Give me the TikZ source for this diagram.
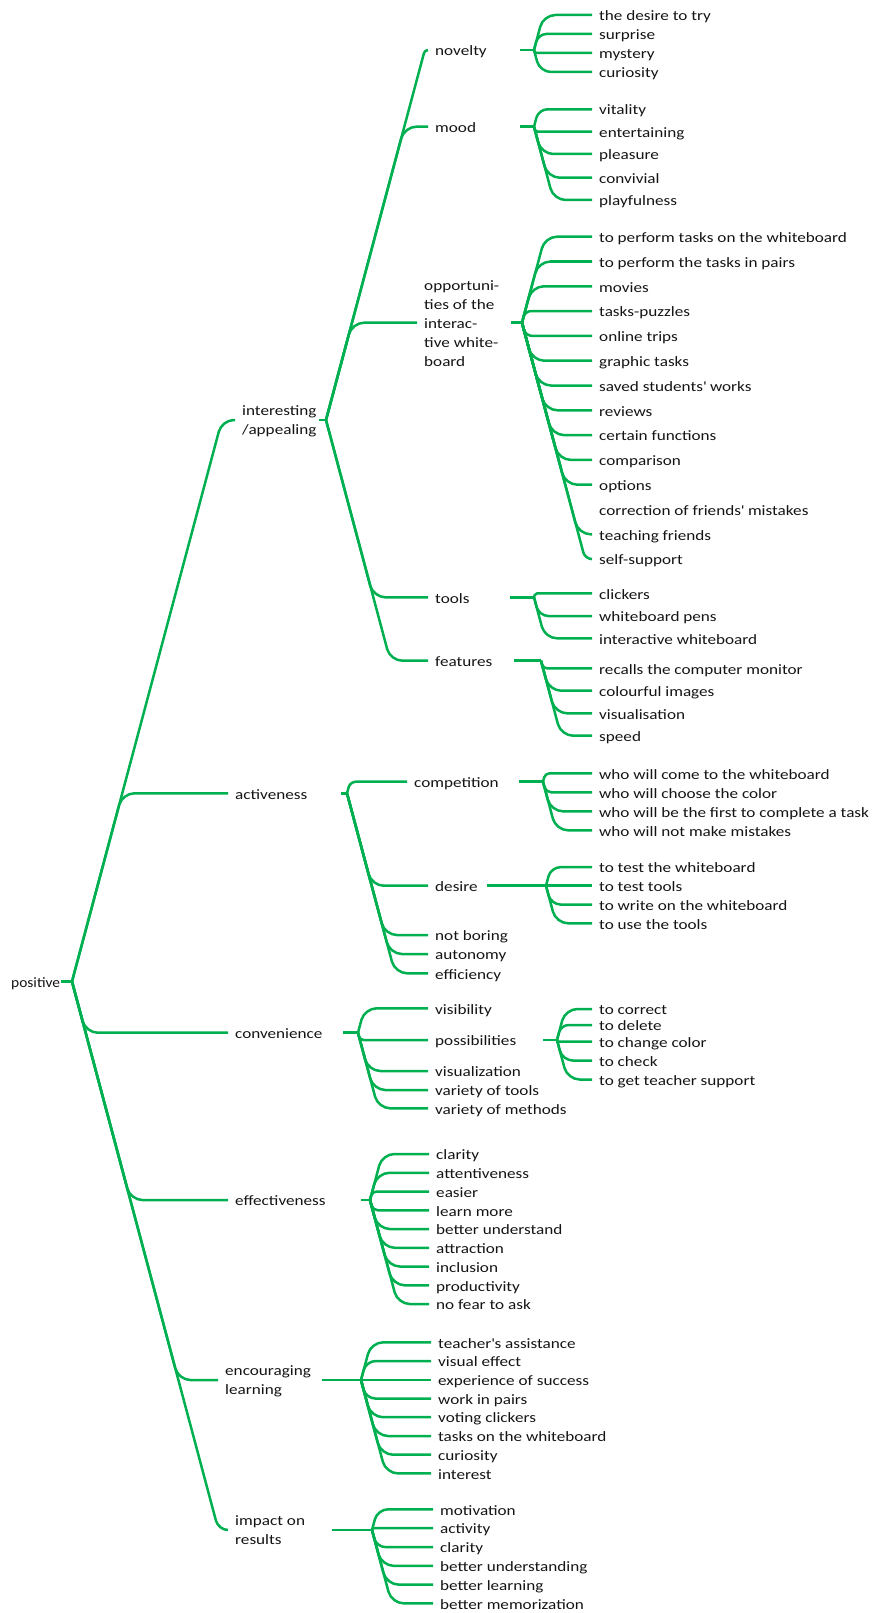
\documentclass[tikz,border=0pt]{standalone}
\usepackage{fontspec}
\setmainfont{Carlito}[FakeStretch=1.2]
\newfontfamily\rootfont{Carlito}[FakeStretch=1.08]
\usetikzlibrary{calc}
\definecolor{lgreen}{RGB}{0,176,80}
\definecolor{txt}{RGB}{20,20,20}
\newcommand\lblfont{\fontsize{14.3pt}{19pt}\selectfont}
\tikzset{
  conn/.style={draw=lgreen, line width=2.5pt, line join=round},
  lbl/.style={anchor=west, inner xsep=7pt, inner ysep=0pt, text height=11.4pt, text depth=0pt, text=txt, font=\lblfont},
  mlbl/.style={anchor=base west, inner xsep=7pt, inner ysep=0pt, align=left, text=txt, font=\lblfont},
}
% curved elbow connector from junction #1 to node #2
\newcommand\br[2]{\draw[conn] let \p1=(#1), \p2=(#2.west), \n1={abs(\y2-\y1)}, \n2={min(\x1+0.267*\n1,\x2)}, \n3={max(0.2,min(12,0.5*\n1,\x2-\n2))} in [rounded corners=\n3] (\p1) -- (\n2,\y2) -- (\p2);}
\newcommand\sbr[2]{\draw[conn] (#1) -- (#2.west);}
\begin{document}
\begin{tikzpicture}[x=1pt,y=-1pt]
\useasboundingbox (0,0) rectangle (873,1613);
% ---------- root
\node[lbl, font=\rootfont\fontsize{14.3pt}{19pt}\selectfont] (pos) at (4,981.5) {positive};
\coordinate (s0) at (61,981.5); \coordinate (j0) at (72,981.5);
\draw[conn] (s0) -- (j0);
% ---------- level 1 (multi-line labels: base = last baseline)
\node[mlbl] (int) at (235,434) {interesting\\/appealing};
\coordinate (intIn) at (235,420);
\coordinate (sInt) at (319,420); \coordinate (jInt) at (326,420);
\node[lbl] (act) at (228,793.3) {activeness};
\coordinate (sAct) at (341,793.3); \coordinate (jAct) at (347,793.3);
\node[lbl] (conv) at (228,1032.7) {convenience};
\coordinate (sConv) at (343,1032.7); \coordinate (jConv) at (358,1032.7);
\node[lbl] (eff) at (228,1200) {effectiveness};
\coordinate (sEff) at (361,1200); \coordinate (jEff) at (370,1200);
\node[mlbl] (enc) at (218,1394) {encouraging\\learning};
\coordinate (encIn) at (218,1380);
\coordinate (sEnc) at (322,1380); \coordinate (jEnc) at (361,1380);
\node[mlbl] (imp) at (228,1544) {impact on\\results};
\coordinate (impIn) at (228,1530);
\coordinate (sImp) at (332,1530); \coordinate (jImp) at (372,1530);
\br{j0}{intIn} \br{j0}{act} \br{j0}{conv} \br{j0}{eff} \br{j0}{encIn} \br{j0}{impIn}
\draw[conn] (sInt) -- (jInt);
\draw[conn] (sAct) -- (jAct);
\draw[conn] (sConv) -- (jConv);
\draw[conn] (sEff) -- (jEff);
\draw[conn] (sEnc) -- (jEnc);
\draw[conn] (sImp) -- (jImp);
% ---------- interesting / appealing
\node[lbl] (nov) at (428,50) {novelty};
\coordinate (sNov) at (520,50); \coordinate (jNov) at (534,50);
\node[lbl] (mood) at (428,126.7) {mood};
\coordinate (sMood) at (520,126.7); \coordinate (jMood) at (534,126.7);
\node[mlbl] (opp) at (417,366.7) {opportuni-\\ties of the\\interac-\\tive white-\\board};
\coordinate (oppIn) at (417,322.7);
\coordinate (sOpp) at (511,322.7); \coordinate (jOpp) at (522,322.7);
\node[lbl] (tools) at (428,597.3) {tools};
\coordinate (sTools) at (510,597.3); \coordinate (jTools) at (534,597.3);
\node[lbl] (feat) at (428,660.7) {features};
\coordinate (sFeat) at (514,660.7); \coordinate (jFeat) at (541,660.7);
\br{jInt}{nov} \br{jInt}{mood} \br{jInt}{oppIn} \br{jInt}{tools} \br{jInt}{feat}
\draw[conn] (sNov) -- (jNov);
\draw[conn] (sMood) -- (jMood);
\draw[conn] (sOpp) -- (jOpp);
\draw[conn] (sTools) -- (jTools);
\draw[conn] (sFeat) -- (jFeat);
\foreach \yy/\tx [count=\i] in {15/the desire to try, 34/surprise, 53/mystery, 72/curiosity}
  {\node[lbl] (nov\i) at (592,\yy) {\tx}; \br{jNov}{nov\i}}
\foreach \yy/\tx [count=\i] in {109.3/vitality, 131.7/entertaining, 154/pleasure, 177.7/convivial, 200/playfulness}
  {\node[lbl] (mood\i) at (592,\yy) {\tx}; \br{jMood}{mood\i}}
\foreach \yy/\tx [count=\i] in {236.7/to perform tasks on the whiteboard, 261.5/to perform the tasks in pairs, 286.3/movies, 311.1/tasks-puzzles, 335.9/online trips, 360.7/graphic tasks, 385.5/saved students\textquotesingle{} works, 410.3/reviews, 435.1/certain functions, 459.9/comparison, 484.7/options}
  {\node[lbl] (opp\i) at (592,\yy) {\tx}; \br{jOpp}{opp\i}}
\node[lbl] (opp12) at (592,509.5) {correction of friends\textquotesingle{} mistakes};
\node[lbl] (opp13) at (592,534.3) {teaching friends};
\node[lbl] (opp14) at (592,559.1) {self-support};
\br{jOpp}{opp13} \br{jOpp}{opp14}
\foreach \yy/\tx [count=\i] in {593.3/clickers, 616/whiteboard pens, 638.3/interactive whiteboard}
  {\node[lbl] (tools\i) at (592,\yy) {\tx}; \br{jTools}{tools\i}}
\foreach \yy/\tx [count=\i] in {668.3/recalls the computer monitor, 690.7/colourful images, 713.3/visualisation, 735.7/speed}
  {\node[lbl] (feat\i) at (592,\yy) {\tx}; \br{jFeat}{feat\i}}
% ---------- activeness
\node[lbl] (comp) at (407,781.7) {competition};
\coordinate (sComp) at (519,781.7); \coordinate (jComp) at (543,781.7);
\node[lbl] (des) at (428,885.7) {desire};
\coordinate (sDes) at (487,885.7); \coordinate (jDes) at (546,885.7);
\node[lbl] (notb) at (428,935) {not boring};
\node[lbl] (auto) at (428,954) {autonomy};
\node[lbl] (effi) at (428,973.3) {efficiency};
\br{jAct}{comp} \br{jAct}{des} \br{jAct}{notb} \br{jAct}{auto} \br{jAct}{effi}
\draw[conn] (sComp) -- (jComp);
\draw[conn] (sDes) -- (jDes);
\foreach \yy/\tx [count=\i] in {773.3/who will come to the whiteboard, 792.3/who will choose the color, 811.3/who will be the first to complete a task, 830.3/who will not make mistakes}
  {\node[lbl] (comp\i) at (592,\yy) {\tx}; \br{jComp}{comp\i}}
\node[lbl] (des1) at (592,867.2) {to test the whiteboard};
\node[lbl] (des2) at (592,885.7) {to test tools};
\node[lbl] (des3) at (592,904.5) {to write on the whiteboard};
\node[lbl] (des4) at (592,923.3) {to use the tools};
\br{jDes}{des1} \sbr{jDes}{des2} \br{jDes}{des3} \br{jDes}{des4}
% ---------- convenience
\node[lbl] (vis) at (428,1008.3) {visibility};
\node[lbl] (poss) at (428,1040) {possibilities};
\coordinate (sPoss) at (543,1040); \coordinate (jPoss) at (557,1040);
\node[lbl] (visz) at (428,1071) {visualization};
\node[lbl] (vtools) at (428,1090) {variety of tools};
\node[lbl] (vmeth) at (428,1108.3) {variety of methods};
\br{jConv}{vis} \br{jConv}{poss} \br{jConv}{visz} \br{jConv}{vtools} \br{jConv}{vmeth}
\draw[conn] (sPoss) -- (jPoss);
\foreach \yy/\tx [count=\i] in {1009/to correct, 1025/to delete, 1041.7/to change color, 1060.5/to check, 1079.5/to get teacher support}
  {\node[lbl] (poss\i) at (592,\yy) {\tx}; \br{jPoss}{poss\i}}
% ---------- effectiveness
\foreach \yy/\tx [count=\i] in {1154/clarity, 1172.8/attentiveness, 1191.5/easier, 1210.3/learn more, 1229/better understand, 1247.8/attraction, 1266.5/inclusion, 1285.3/productivity, 1304/no fear to ask}
  {\node[lbl] (eff\i) at (429,\yy) {\tx}; \br{jEff}{eff\i}}
% ---------- encouraging learning
\node[lbl] (enc3) at (431,1380) {experience of success};
\sbr{jEnc}{enc3}
\foreach \yy/\tx/\i in {1342.3/teacher\textquotesingle{}s assistance/1, 1361/visual effect/2, 1398.5/work in pairs/4, 1417.2/voting clickers/5, 1436/tasks on the whiteboard/6, 1454.7/curiosity/7, 1473.4/interest/8}
  {\node[lbl] (enc\i) at (431,\yy) {\tx}; \br{jEnc}{enc\i}}
% ---------- impact on results
\foreach \yy/\tx [count=\i] in {1509.3/motivation, 1528.2/activity, 1547/clarity, 1565.8/better understanding, 1584.6/better learning, 1603.3/better memorization}
  {\node[lbl] (imp\i) at (433,\yy) {\tx}; \br{jImp}{imp\i}}
\end{tikzpicture}
\end{document}
